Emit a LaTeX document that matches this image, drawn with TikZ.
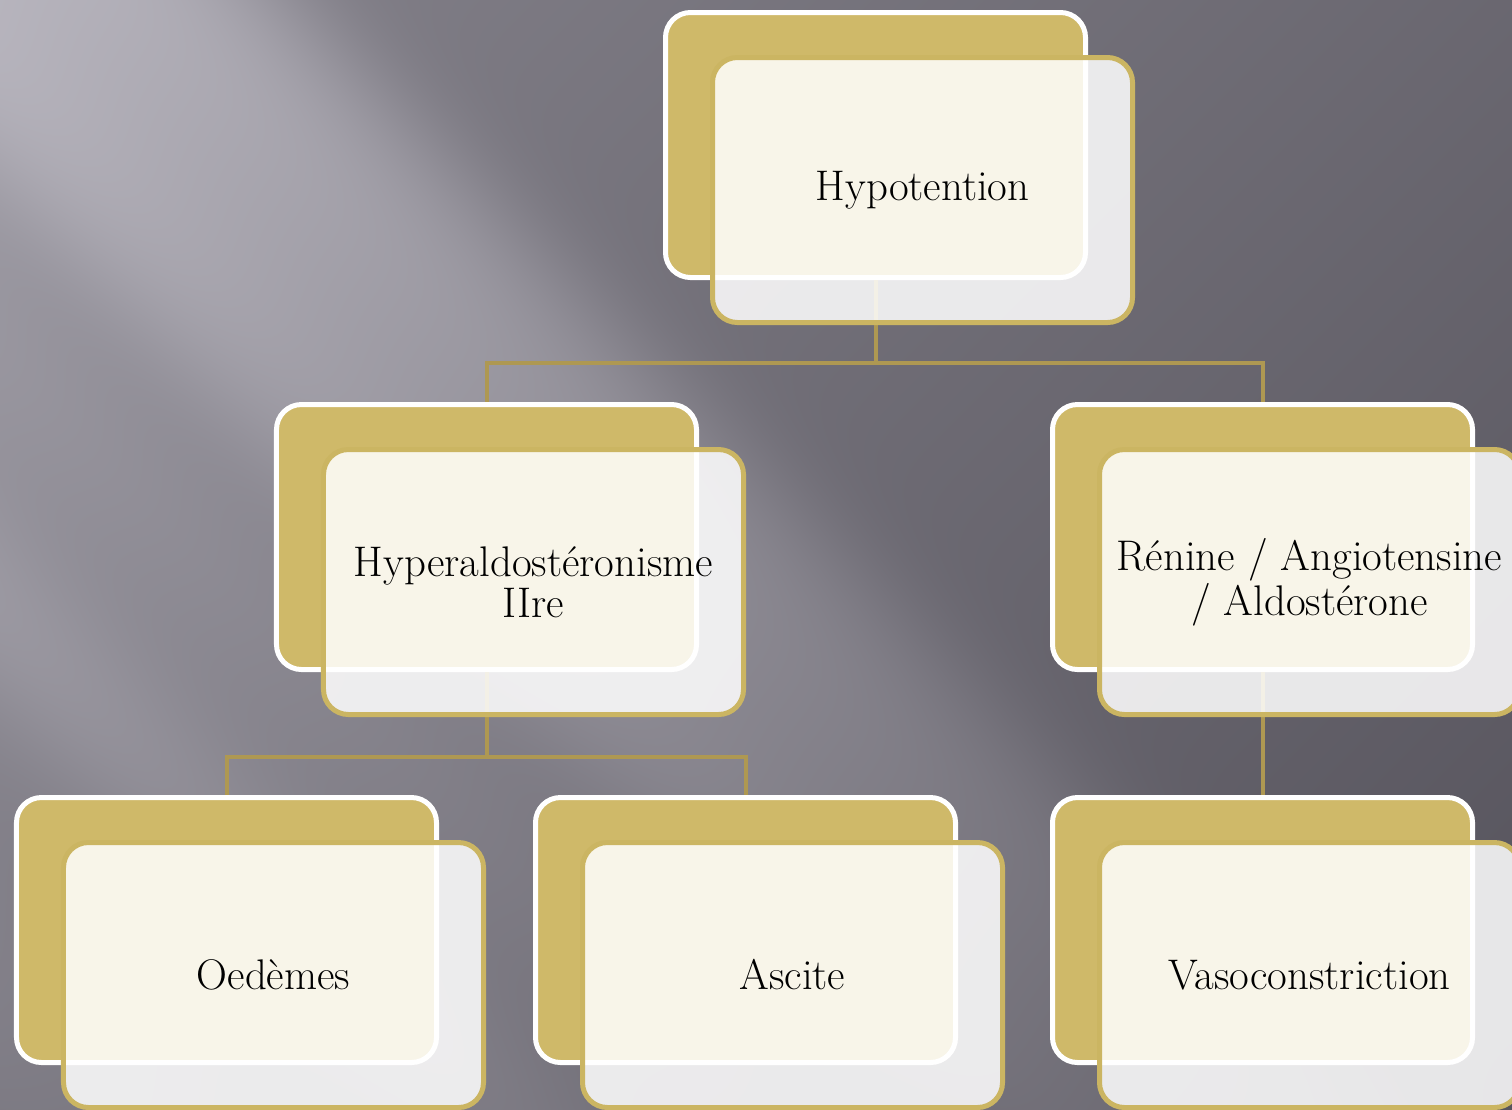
\documentclass[tikz,border=0pt]{standalone}
\definecolor{gold}{RGB}{207,185,105}
\definecolor{goldedge}{RGB}{203,181,98}
\definecolor{linkgold}{RGB}{174,152,82}

% background: light diagonal streaks on a dark grey
\pgfdeclarefunctionalshading{bgshade}{\pgfpoint{0bp}{0bp}}{\pgfpoint{756bp}{554.5bp}}{}{
  2 copy add 2 mul 1109 sub 3 1 roll sub 2 mul 1109 add
  dup 0.00007 mul 0.52 exch sub exch 3500 div 1 exch sub 3 -1 roll
  dup 50 sub 250 div dup mul dup mul neg 2.71828 exch exp 0.19 mul
  exch dup 620 add 130 div dup mul neg 2.71828 exch exp 0.12 mul
  exch dup 350 add 200 div dup mul neg 2.71828 exch exp 0.11 mul
  exch 1000 add 300 div dup mul neg 2.71828 exch exp 0.08 mul
  add add add mul add
  dup dup 0.01 sub exch 0.025 add
}

\begin{document}
\begin{tikzpicture}[x=0.5bp,y=-0.5bp,
    backbox/.style={draw=white, line width=2.5bp, fill=gold, rounded corners=12.5bp,
        minimum width=210bp, minimum height=132.5bp, inner sep=0pt},
    frontbox/.style={backbox, draw=goldedge, fill=white, fill opacity=0.86, text opacity=1,
        shift={(47,45)}, align=center, font=\fontsize{21.5}{20.5}\selectfont},
    link/.style={draw=linkgold, line width=2bp}]
    \useasboundingbox (0,0) rectangle (1512,1109);
    \clip (0,0) rectangle (1512,1109);
    \node[inner sep=0pt, outer sep=0pt, anchor=south west] (bg) at (0,1109) {\pgfuseshading{bgshade}};

    % back cards
    \node[backbox] (topB)  at (875.5,145) {};
    \node[backbox] (midLB) at (486.5,537) {};
    \node[backbox] (midRB) at (1262.5,537) {};
    \node[backbox] (botLB) at (226.5,930) {};
    \node[backbox] (botMB) at (745.5,930) {};
    \node[backbox] (botRB) at (1262.5,930) {};

    % connectors
    \draw[link] (topB.south) -- ++(0,83) coordinate (busA) -| (midLB.north);
    \draw[link] (busA) -| (midRB.north);
    \draw[link] (midLB.south) -- ++(0,85) coordinate (busB) -| (botLB.north);
    \draw[link] (busB) -| (botMB.north);
    \draw[link] (midRB.south) -- (botRB.north);

    % front cards
    \node[frontbox] (top)  at (topB)  {Hypotention};
    \node[frontbox] (midL) at (midLB) {Hyperaldostéronisme\\IIre};
    \node[frontbox] (midR) at (midRB) {Rénine / Angiotensine\\/ Aldostérone};
    \node[frontbox] (botL) at (botLB) {Oedèmes};
    \node[frontbox] (botM) at (botMB) {Ascite};
    \node[frontbox] (botR) at (botRB) {Vasoconstriction};
\end{tikzpicture}
\end{document}
